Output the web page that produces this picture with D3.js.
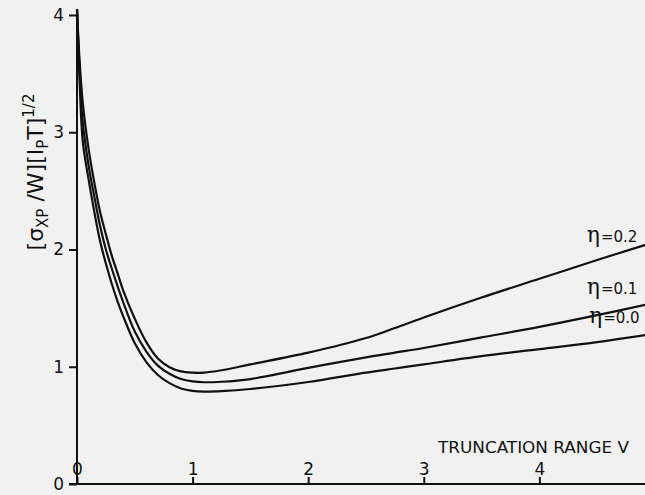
<!DOCTYPE html>
<html>
<head>
<meta charset="utf-8">
<script src="https://cdn.jsdelivr.net/npm/d3@7"></script>
<style>
  html, body { margin: 0; padding: 0; background: #f1f1f1; }
  svg { display: block; }
  text { font-family: "DejaVu Sans", "Liberation Sans", sans-serif; fill: #111; }
</style>
</head>
<body>
<svg id="chart" width="645" height="495"></svg>
<script>
// ---- data ----
const truncationV = [0, 0.02, 0.05, 0.1, 0.15, 0.2, 0.25, 0.3, 0.35, 0.4, 0.5, 0.6, 0.7, 0.8, 0.9, 1.0, 1.1, 1.25, 1.5, 2.0, 2.5, 2.75, 3.0, 3.5, 4.0, 4.5, 4.92];
const eta00 = [4.05, 3.5, 2.92, 2.6, 2.32, 2.07, 1.88, 1.71, 1.56, 1.43, 1.2, 1.04, 0.93, 0.86, 0.815, 0.795, 0.788, 0.792, 0.81, 0.87, 0.95, 0.985, 1.02, 1.09, 1.15, 1.21, 1.27];
const eta01 = [4.05, 3.58, 3.08, 2.72, 2.45, 2.2, 2.0, 1.84, 1.69, 1.55, 1.3, 1.13, 1.01, 0.94, 0.895, 0.875, 0.868, 0.872, 0.895, 0.99, 1.08, 1.12, 1.16, 1.25, 1.34, 1.44, 1.53];
const eta02 = [4.05, 3.65, 3.25, 2.86, 2.57, 2.32, 2.13, 1.95, 1.8, 1.65, 1.41, 1.21, 1.07, 0.995, 0.96, 0.95, 0.95, 0.97, 1.02, 1.12, 1.245, 1.33, 1.42, 1.59, 1.75, 1.91, 2.04];
const seriesLabels = ["0.0", "0.1", "0.2"];
const xTicks = [0, 1, 2, 3, 4];
const yTicks = [0, 1, 2, 3, 4];
const xTitle = "TRUNCATION RANGE  V";

// ---- layout ----
const svg = d3.select("#chart");
const x = d3.scaleLinear().domain([0, 4.914]).range([77, 645]);
const y = d3.scaleLinear().domain([0, 4]).range([484, 15]);

// axes
const yAxis = d3.axisLeft(y).tickValues(yTicks).tickSize(8).tickSizeOuter(0).tickPadding(5)
  .tickFormat(d3.format("d"));
const gy = svg.append("g").attr("transform", "translate(77,0)").call(yAxis);
gy.select(".domain").remove();
gy.selectAll(".tick line").attr("stroke", "#111").attr("stroke-width", 2);
gy.selectAll(".tick text").attr("font-size", 17).attr("fill", "#111")
  .attr("font-family", "'DejaVu Sans', sans-serif");
svg.append("line").attr("x1", 77).attr("x2", 77).attr("y1", 11).attr("y2", y(0))
  .attr("stroke", "#111").attr("stroke-width", 2);

const xAxis = d3.axisTop(x).tickValues(xTicks).tickSize(7).tickSizeOuter(0).tickPadding(2)
  .tickFormat(d3.format("d"));
const gx = svg.append("g").attr("transform", "translate(0,484)").call(xAxis);
gx.select(".domain").remove();
gx.selectAll(".tick line").attr("stroke", "#111").attr("stroke-width", 2);
gx.selectAll(".tick text").attr("font-size", 17).attr("fill", "#111")
  .attr("font-family", "'DejaVu Sans', sans-serif");
svg.append("line").attr("x1", 69).attr("x2", 645).attr("y1", 484).attr("y2", 484)
  .attr("stroke", "#111").attr("stroke-width", 2);

// x title
svg.append("text").attr("x", 438).attr("y", 453)
  .attr("font-size", 16).attr("textLength", 191).attr("lengthAdjust", "spacingAndGlyphs")
  .attr("font-family", "'Liberation Sans', Arial, sans-serif")
  .text(xTitle);

// y title
const yt = svg.append("text")
  .attr("transform", "translate(43,172) rotate(-90)")
  .attr("text-anchor", "middle")
  .attr("font-size", 22);
yt.append("tspan").text("[σ");
yt.append("tspan").attr("font-size", 15).attr("dy", 5).text("XP");
yt.append("tspan").attr("dy", -5).text(" /W][I");
yt.append("tspan").attr("font-size", 15).attr("dy", 5).text("P");
yt.append("tspan").attr("dy", -5).text("T]");
yt.append("tspan").attr("font-size", 15).attr("dy", -9).text("1/2");

// curves
const series = [eta00, eta01, eta02];
const line = d3.line()
  .x((d, i) => x(truncationV[i]))
  .y(d => y(d))
  .curve(d3.curveCatmullRom.alpha(0.5));
svg.append("g").selectAll("path").data(series).join("path")
  .attr("d", d => line(d))
  .attr("fill", "none")
  .attr("stroke", "#111")
  .attr("stroke-width", 2.2);

// curve labels
const labelPos = [
  {v: 4.43, val: 1.37},  // eta 0.0
  {v: 4.41, val: 1.62},  // eta 0.1
  {v: 4.41, val: 2.06}   // eta 0.2
];
seriesLabels.forEach((lab, i) => {
  const t = svg.append("text")
    .attr("x", x(labelPos[i].v)).attr("y", y(labelPos[i].val))
    .attr("font-size", 15);
  t.append("tspan").attr("font-size", 22).attr("font-family", "'DejaVu Serif', serif").text("η");
  t.append("tspan").attr("dx", 1).text("=" + lab);
});
</script>
</body>
</html>
